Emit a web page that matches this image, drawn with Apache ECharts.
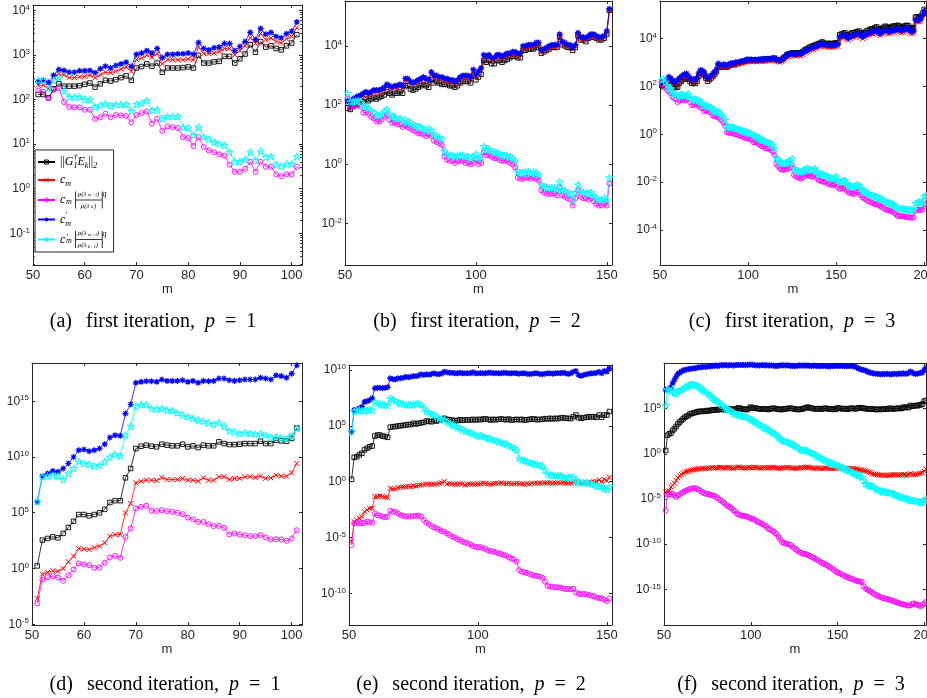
<!DOCTYPE html>
<html><head><meta charset="utf-8">
<script src="https://cdn.jsdelivr.net/npm/echarts@6/dist/echarts.min.js"></script>
<style>html,body{margin:0;padding:0;background:#fff}#c{width:927px;height:698px}</style>
</head><body><div id="c"></div>
<script>
// ---------- data (x = m, starting at 51) ----------
const M_START = 51;
// (a) first iteration, p = 1
const a_G = [1.3e2,1.3e2,1.1e2,1.75e2,2.25e2,2.0e2,2.0e2,2.0e2,2.05e2,2.2e2,
 2.35e2,1.9e2,2.25e2,2.7e2,2.6e2,2.8e2,3.1e2,3.4e2,2.7e2,5.1e2,
 5.5e2,6.3e2,5.6e2,6.6e2,4.1e2,5.1e2,5.1e2,5.1e2,5.2e2,5.4e2,
 5.1e2,9.8e2,6.6e2,6.6e2,7.0e2,7.2e2,9.3e2,9.3e2,6.6e2,8.2e2,
 1.05e3,1.7e3,1.15e3,2.0e3,1.5e3,1.6e3,1.4e3,1.3e3,1.6e3,1.85e3,2.85e3];
const a_c = [2.1e2,2.1e2,1.75e2,3.2e2,3.8e2,3.5e2,3.1e2,3.1e2,3.2e2,3.3e2,
 3.5e2,3.1e2,3.6e2,4.1e2,4.0e2,4.3e2,4.8e2,5.4e2,4.3e2,7.9e2,
 8.5e2,9.8e2,9.0e2,1.07e3,6.3e2,7.8e2,7.8e2,7.8e2,7.8e2,8.2e2,
 7.8e2,1.5e3,1.07e3,1.07e3,1.1e3,1.2e3,1.4e3,1.4e3,1.0e3,1.25e3,
 1.6e3,2.45e3,1.8e3,3.0e3,2.2e3,2.4e3,2.0e3,1.85e3,2.3e3,2.6e3,4.1e3];
const a_cr = [1.6e2,1.5e2,1.07e2,1.65e2,1.8e2,88,68,67,67,59,
 59,37,40,48,40,45,44,43,31,45,
 50,54,29,37,20,25,24,23,14.4,13.7,
 9.1,14.4,8.6,7.2,6.6,5.9,5.5,3.45,2.4,2.4,
 2.8,4.0,2.4,4.0,3.1,3.1,2.1,1.9,2.1,2.1,3.1];
const a_cp = [2.5e2,2.7e2,2.4e2,3.5e2,4.7e2,4.5e2,4.1e2,4.1e2,4.4e2,4.4e2,
 4.5e2,4.0e2,4.9e2,5.6e2,5.1e2,5.8e2,6.3e2,6.9e2,5.5e2,1.03e3,
 1.1e3,1.25e3,1.1e3,1.4e3,8.7e2,1.03e3,1.03e3,1.06e3,1.06e3,1.1e3,
 1.03e3,1.9e3,1.4e3,1.3e3,1.45e3,1.5e3,1.8e3,1.8e3,1.25e3,1.55e3,
 2.0e3,3.2e3,2.2e3,3.9e3,2.9e3,3.2e3,2.6e3,2.4e3,3.0e3,3.4e3,5.5e3];
const a_cpr = [2.7e2,2.7e2,1.8e2,2.7e2,3.1e2,1.55e2,1.14e2,1.14e2,1.14e2,1.0e2,
 1.0e2,68,74,81,72,78,77,78,55,78,
 83,95,57,59,37,42,42,42,24,23,
 16,24,14.4,13,11,10.2,9.4,6.6,4.0,4.1,
 4.5,6.6,4.3,7.0,5.1,5.3,3.45,3.2,3.6,3.6,5.3];

// (b) first iteration, p = 2
const b_G = [79,71,89,1e2,1.1e2,1.3e2,1.3e2,1.6e2,1.4e2,1.6e2,
 1.8e2,1.6e2,1.8e2,2e2,2.2e2,2.8e2,2.5e2,2.2e2,2.5e2,2.5e2,
 2.8e2,2.5e2,4.5e2,4.5e2,3.5e2,3.2e2,3.5e2,4e2,4.5e2,5e2,
 4.5e2,4e2,7.1e2,5.6e2,6.3e2,5.6e2,5e2,5e2,5e2,4.5e2,
 4.5e2,4e2,4.5e2,5.6e2,6.3e2,6.3e2,6.3e2,5.6e2,1e3,7.1e2,
 8.9e2,1.1e3,3.2e3,2.8e3,3.2e3,2.5e3,2.5e3,3.2e3,3.2e3,2.8e3,
 3.2e3,3.5e3,4e3,4.5e3,4.5e3,4e3,4e3,7.1e3,7.1e3,7.9e3,
 7.9e3,7.9e3,8.9e3,8.9e3,5.6e3,6.3e3,7.1e3,7.9e3,8.9e3,8.9e3,
 8.9e3,2e4,1.1e4,1e4,8.9e3,8.9e3,7.1e3,8.9e3,2.2e4,1.6e4,
 1.6e4,1.4e4,1.8e4,2e4,2e4,1.8e4,1.6e4,1.6e4,1.8e4,2.5e4,1.6e5];
const b_c = [1.2e2,95,1.4e2,1.5e2,1.7e2,1.9e2,2.1e2,2.4e2,2.1e2,2.4e2,
 2.7e2,2.7e2,2.7e2,3e2,3.4e2,4.3e2,3.9e2,3.4e2,3.9e2,3.9e2,
 4.3e2,3.9e2,6.8e2,6.8e2,5.4e2,4.8e2,5.4e2,6.1e2,6.8e2,7.6e2,
 6.8e2,6.1e2,1.1e3,8.5e2,8.5e2,7.6e2,7.6e2,6.8e2,6.8e2,6.1e2,
 6.1e2,5.4e2,6.1e2,7.6e2,8.5e2,8.5e2,8.5e2,7.6e2,1.4e3,9.5e2,
 1.2e3,1.5e3,4.3e3,3.9e3,4.3e3,3.4e3,3.4e3,4.3e3,4.3e3,3.9e3,
 4.3e3,4.8e3,4.8e3,5.4e3,5.4e3,4.8e3,4.8e3,8.5e3,8.5e3,9.5e3,
 9.5e3,9.5e3,1.1e4,1.1e4,6.1e3,6.8e3,7.6e3,8.5e3,9.5e3,9.5e3,
 9.5e3,2.1e4,1.2e4,1.1e4,9.5e3,9.5e3,7.6e3,9.5e3,2.4e4,1.7e4,
 1.7e4,1.5e4,1.9e4,2.1e4,2.1e4,1.9e4,1.7e4,1.7e4,1.9e4,2.7e4,1.6e5];
const b_cr = [1.6e2,79,89,1e2,1e2,89,56,56,50,40,
 35,28,28,32,40,45,32,25,25,22,
 22,18,20,18,16,14,13,11,11,10,
 8.9,10,8.9,6.3,5.6,5,4.5,1.8,1.4,1.3,
 1.3,1.1,1.3,1.3,1.3,1.1,1.1,1,1.1,1.4,
 1,1.1,2.5,2,2,1.8,1.6,1.6,1.4,1.3,
 1.3,1.3,1.1,1,0.79,0.35,0.32,0.32,0.35,0.35,
 0.32,0.35,0.32,0.28,0.13,0.11,0.1,0.1,0.1,0.1,
 0.089,0.16,0.089,0.079,0.071,0.063,0.04,0.071,0.13,0.079,
 0.071,0.071,0.063,0.071,0.056,0.045,0.04,0.04,0.045,0.04,0.22];
const b_cp = [1.4e2,1.1e2,1.6e2,1.8e2,2e2,2.2e2,2.5e2,2.8e2,2.5e2,2.8e2,
 3.2e2,3.2e2,3.2e2,3.5e2,4e2,5e2,4.5e2,4e2,4.5e2,4.5e2,
 5e2,4.5e2,7.9e2,7.9e2,6.3e2,5.6e2,6.3e2,7.1e2,7.9e2,8.9e2,
 7.9e2,7.1e2,1.3e3,1e3,1e3,8.9e2,8.9e2,7.9e2,7.9e2,7.1e2,
 7.1e2,6.3e2,7.1e2,8.9e2,1e3,1e3,1e3,8.9e2,1.6e3,1.1e3,
 1.4e3,1.8e3,5e3,4.5e3,5e3,4e3,4e3,5e3,5e3,4.5e3,
 5e3,5.6e3,5.6e3,6.3e3,6.3e3,5.6e3,5.6e3,1e4,1e4,1.1e4,
 1.1e4,1.1e4,1.3e4,1.3e4,7.1e3,7.9e3,8.9e3,1e4,1.1e4,1.1e4,
 1.1e4,2.5e4,1.4e4,1.3e4,1.1e4,1.1e4,8.9e3,1.1e4,2.8e4,2e4,
 2e4,1.8e4,2.2e4,2.5e4,2.5e4,2.2e4,2e4,2e4,2.2e4,3.2e4,1.8e5];
const b_cpr = [2.5e2,1.3e2,1.3e2,1.4e2,1.4e2,1.3e2,89,89,79,63,
 56,45,45,50,63,71,50,40,40,35,
 35,28,32,28,25,22,20,18,18,16,
 14,16,14,10,8.9,7.9,7.1,2.8,2.2,2,
 2,1.8,2,2,2,1.8,1.8,1.6,1.8,2.2,
 1.6,1.8,4,3.2,3.2,2.8,2.5,2.5,2.2,2,
 2,2,1.8,1.6,1.3,0.56,0.5,0.5,0.56,0.56,
 0.5,0.56,0.5,0.45,0.2,0.18,0.16,0.16,0.16,0.16,
 0.14,0.25,0.14,0.13,0.11,0.1,0.063,0.11,0.2,0.13,
 0.11,0.11,0.1,0.11,0.089,0.071,0.063,0.063,0.071,0.063,0.35];

// (c) first iteration, p = 3
const c_G = [1.1e2,95,1.1e2,1.4e2,1.7e2,1.6e2,1.2e2,95,89,93,
 1.3e2,1.6e2,1.9e2,2.1e2,2.4e2,2e2,1.6e2,1.3e2,1.4e2,1.3e2,
 1.6e2,2.6e2,3.5e2,3.3e2,3e2,2.2e2,1.6e2,1.9e2,2.2e2,2.6e2,
 3.2e2,4e2,7.1e2,6.3e2,6.3e2,7.1e2,6.6e2,6.3e2,7.1e2,7.6e2,
 8.3e2,7.9e2,8.9e2,8.9e2,9.3e2,1e3,1.05e3,1.1e3,1.15e3,1.2e3,
 1.25e3,1.2e3,1.2e3,1.25e3,1.2e3,1.25e3,1.3e3,1.25e3,1.35e3,1.3e3,
 1.4e3,1.35e3,1.4e3,1.45e3,1.5e3,1.3e3,1.25e3,1.2e3,1.3e3,1.5e3,
 1.7e3,2.1e3,2.2e3,2.3e3,2.5e3,2.4e3,2.3e3,2.5e3,2.5e3,2.4e3,
 2.8e3,3.2e3,3.5e3,3.8e3,4.3e3,4.6e3,4.8e3,5.2e3,5.6e3,6e3,
 6.3e3,7.1e3,6.3e3,6e3,6e3,6.2e3,5.9e3,6e3,6.3e3,6.3e3,
 6.6e3,1.4e4,1.5e4,1.6e4,1.7e4,1.4e4,1.3e4,1.5e4,1.7e4,1.7e4,
 1.8e4,1.9e4,2e4,1.7e4,1.5e4,1.7e4,2e4,2.1e4,2.3e4,2.5e4,
 2.4e4,2.8e4,3e4,2.5e4,2.3e4,2.6e4,2.9e4,3.2e4,2.9e4,2.8e4,
 2.9e4,3.2e4,3.2e4,3.3e4,3.5e4,3.2e4,2.8e4,3e4,3.3e4,3.5e4,
 3.3e4,2.8e4,2.6e4,2.8e4,7.6e4,7.9e4,7.6e4,8.3e4,1.1e5,1.6e5,1.4e5];
const c_c = [1.3e2,1.1e2,1.3e2,1.7e2,2.1e2,1.9e2,1.5e2,1.3e2,1.3e2,1.5e2,
 1.9e2,2.1e2,2.4e2,2.7e2,2.8e2,2.4e2,1.9e2,1.5e2,1.7e2,1.6e2,
 1.9e2,2.9e2,3.9e2,3.7e2,3.3e2,2.4e2,1.75e2,2.1e2,2.4e2,2.8e2,
 3.3e2,4.2e2,7.4e2,6.6e2,6.3e2,6.9e2,6.6e2,6.3e2,6.9e2,7.4e2,
 7.8e2,7.4e2,8.3e2,8.3e2,8.7e2,9.3e2,9.3e2,1e3,1.05e3,1.1e3,
 1.1e3,1.05e3,1.05e3,1.1e3,1.05e3,1.1e3,1.1e3,1.1e3,1.15e3,1.1e3,
 1.2e3,1.15e3,1.2e3,1.2e3,1.2e3,1.1e3,1.05e3,1e3,1.1e3,1.2e3,
 1.4e3,1.7e3,1.75e3,1.9e3,2e3,1.9e3,1.8e3,1.9e3,1.9e3,1.85e3,
 2.1e3,2.4e3,2.6e3,2.8e3,3.1e3,3.3e3,3.5e3,3.7e3,4e3,4.3e3,
 4.6e3,5e3,4.6e3,4.4e3,4.3e3,4.4e3,4.2e3,4.3e3,4.4e3,4.5e3,
 4.7e3,9.5e3,1.05e4,1.1e4,1.1e4,9.3e3,8.3e3,1e4,1.1e4,1.1e4,
 1.2e4,1.25e4,1.3e4,1.1e4,9.8e3,1.1e4,1.25e4,1.3e4,1.4e4,1.55e4,
 1.5e4,1.65e4,1.8e4,1.5e4,1.3e4,1.5e4,1.65e4,1.8e4,1.65e4,1.55e4,
 1.65e4,1.8e4,1.8e4,1.95e4,2.1e4,1.85e4,1.65e4,1.8e4,2e4,2.1e4,
 2e4,1.65e4,1.55e4,1.65e4,4.8e4,5e4,4.8e4,5.2e4,7.7e4,1.05e5,9.3e4];
const c_cr = [1.2e2,1.3e2,1e2,70,60,50,37,32,28,22,
 25,29,27,25,27,30,22,16,17,18,
 17,15,13,12,9,9.8,9.3,8.5,7.9,6,
 5.7,5.3,5,4.5,3.7,3,2.2,1.2,1.15,1.1,
 1.15,1.05,0.98,0.95,0.87,0.85,0.79,0.71,0.68,0.65,
 0.62,0.58,0.46,0.48,0.44,0.39,0.35,0.31,0.3,0.26,
 0.25,0.25,0.22,0.19,0.135,0.059,0.047,0.038,0.034,0.032,
 0.034,0.035,0.038,0.042,0.05,0.02,0.018,0.016,0.015,0.014,
 0.016,0.018,0.02,0.019,0.018,0.017,0.0175,0.02,0.015,0.012,
 0.0115,0.011,0.01,0.0105,0.0089,0.0084,0.0079,0.0074,0.0079,0.0087,
 0.0063,0.0052,0.0055,0.0057,0.006,0.0045,0.0037,0.0036,0.0034,0.0032,
 0.0036,0.004,0.0037,0.0028,0.0023,0.0021,0.0019,0.0016,0.0016,0.0014,
 0.0013,0.0012,0.0012,0.0011,0.001,9.3e-4,8.3e-4,7.4e-4,6.9e-4,6.6e-4,
 6.3e-4,5.8e-4,5.2e-4,4.6e-4,3.8e-4,4e-4,3.7e-4,3.8e-4,3.6e-4,3.5e-4,
 3.6e-4,3.3e-4,3.3e-4,3.4e-4,6.3e-4,6.9e-4,7.2e-4,6.9e-4,7.2e-4,1.2e-3,1.3e-3];
const c_cp = [1.5e2,1.3e2,1.6e2,2e2,2.5e2,2.2e2,1.8e2,1.5e2,1.6e2,1.8e2,
 2.2e2,2.5e2,2.9e2,3.2e2,3.4e2,2.8e2,2.2e2,1.8e2,2e2,1.9e2,
 2.2e2,3.5e2,4.7e2,4.5e2,4e2,2.8e2,2.1e2,2.5e2,2.8e2,3.4e2,
 4e2,5e2,8.9e2,7.9e2,7.6e2,8.3e2,7.9e2,7.6e2,8.3e2,8.9e2,
 9.3e2,8.9e2,1e3,1e3,1.05e3,1.1e3,1.1e3,1.2e3,1.3e3,1.3e3,
 1.3e3,1.3e3,1.25e3,1.3e3,1.25e3,1.3e3,1.35e3,1.3e3,1.4e3,1.3e3,
 1.4e3,1.4e3,1.4e3,1.45e3,1.45e3,1.3e3,1.25e3,1.2e3,1.3e3,1.45e3,
 1.7e3,2e3,2.1e3,2.2e3,2.3e3,2.2e3,2.1e3,2.2e3,2.3e3,2.2e3,
 2.5e3,2.8e3,3.2e3,3.3e3,3.7e3,4e3,4.2e3,4.5e3,4.8e3,5.1e3,
 5.5e3,6e3,5.5e3,5.2e3,5.1e3,5.2e3,5e3,5.1e3,5.2e3,5.4e3,
 5.6e3,1.15e4,1.3e4,1.3e4,1.35e4,1.1e4,1e4,1.2e4,1.3e4,1.35e4,
 1.4e4,1.5e4,1.6e4,1.3e4,1.2e4,1.3e4,1.5e4,1.6e4,1.7e4,1.9e4,
 1.8e4,2e4,2.2e4,1.8e4,1.6e4,1.8e4,2e4,2.2e4,2e4,1.9e4,
 2e4,2.1e4,2.2e4,2.3e4,2.6e4,2.2e4,2e4,2.2e4,2.4e4,2.6e4,
 2.4e4,2e4,1.9e4,2e4,5.8e4,6e4,5.8e4,6.3e4,9.3e4,1.3e5,1.1e5];
const c_cpr = [1.8e2,2.1e2,1.5e2,1.1e2,93,79,59,50,45,36,
 40,47,44,40,43,48,35,26,28,29,
 28,25,22,20,15,16,15,14,13,10,
 9.5,8.9,8.5,7.6,6.2,5,3.8,2.1,2,1.9,
 2,1.9,1.7,1.7,1.55,1.5,1.4,1.26,1.2,1.15,
 1.1,1.05,0.83,0.87,0.79,0.71,0.63,0.56,0.54,0.48,
 0.45,0.45,0.41,0.35,0.25,0.11,0.089,0.071,0.063,0.06,
 0.063,0.066,0.071,0.079,0.095,0.037,0.033,0.03,0.028,0.027,
 0.03,0.034,0.037,0.035,0.034,0.032,0.033,0.037,0.028,0.023,
 0.022,0.021,0.019,0.02,0.017,0.016,0.015,0.014,0.015,0.017,
 0.012,0.01,0.011,0.011,0.012,0.0089,0.0074,0.0071,0.0068,0.0063,
 0.0071,0.0079,0.0074,0.0056,0.0046,0.0042,0.0038,0.0033,0.0032,0.0028,
 0.0027,0.0025,0.0025,0.0022,0.0021,0.0019,0.0017,0.0015,0.0014,0.0014,
 0.0013,0.0012,0.0011,9.5e-4,7.9e-4,8.3e-4,7.6e-4,7.9e-4,7.4e-4,7.1e-4,
 7.4e-4,6.8e-4,6.8e-4,7.1e-4,1.3e-3,1.4e-3,1.5e-3,1.4e-3,1.5e-3,2.5e-3,2.8e-3];

// (d) second iteration, p = 1
const d_G = [1.7,3.5e2,4.9e2,6.9e2,5.6e2,1.4e3,4.8e3,1.7e4,6.9e4,6.9e4,
 5.3e4,6.9e4,9.8e4,2e5,8.3e5,1.2e6,1.2e6,1.35e8,9.3e8,5.7e10,
 9.3e10,1.15e11,9.3e10,8.1e10,1.4e11,1.15e11,1e11,1e11,1.4e11,8.1e10,
 1e11,7.1e10,1.15e11,1e11,1e11,2.3e11,1.6e11,1.3e11,1.3e11,1.4e11,
 1.6e11,1.6e11,1.6e11,2.6e11,1.6e11,1.6e11,3.2e11,2.8e11,2.6e11,4.6e11,4.1e12];
const d_c = [2e-3,0.31,0.44,0.62,0.55,1.0,4,12.6,62,54,
 50,76,1e2,2e2,7.9e2,1.1e3,1.1e3,9.8e4,6.7e5,4.8e7,
 6.7e7,8.3e7,8.3e7,7.5e7,1.45e8,9.5e7,9.5e7,9.5e7,1.2e8,8.3e7,
 8.3e7,6.7e7,1.35e8,8.3e7,8.3e7,1.7e8,1.7e8,9.5e7,1.2e8,1.2e8,
 1.7e8,1.7e8,1.45e8,1.9e8,1.2e8,1.35e8,2.3e8,1.9e8,1.9e8,3.8e8,2.6e9];
const d_cr = [7.3e-4,0.1,0.16,0.2,0.15,0.08,0.25,0.8,2.8,2.3,
 2,1.15,1.2,3.2,9.7,13.7,9,6.9e2,3.9e3,2.4e5,
 3.4e5,4.2e5,1.5e5,1.4e5,1.7e5,1.4e5,1.2e5,1e5,7.4e4,3.7e4,
 2.5e4,1.5e4,1.5e4,9.4e3,6.3e3,6.6e3,4.4e3,1.1e3,1.4e3,1.1e3,
 9.7e2,7.9e2,7.9e2,9.7e2,6e2,4e2,4.2e2,4e2,3e2,4.9e2,2.7e3];
const d_cp = [9.5e5,1.9e8,3.3e8,5.4e8,4.7e8,9.3e8,2.6e9,1.0e10,4.1e10,4.7e10,
 3.3e10,4.1e10,5.8e10,1.4e11,5.6e11,9e11,7.9e11,7.9e13,5.4e14,4.5e16,
 5.5e16,6.3e16,6.3e16,5.5e16,8.9e16,6.7e16,6.7e16,6.7e16,7.7e16,5.5e16,
 6.7e16,4.5e16,6.7e16,6.3e16,6.7e16,1.1e17,1.1e17,7.7e16,6.7e16,7.7e16,
 8.9e16,8.9e16,8.9e16,1.3e17,1.1e17,8.9e16,2.1e17,1.8e17,1.3e17,3e17,1.7e18];
const d_cpr = [9.5e5,1.7e8,1.9e8,2.3e8,1.9e8,9.5e7,3.3e8,9.3e8,4.2e9,2.6e9,
 2.2e9,1.5e9,1.8e9,3.7e9,1e10,1.7e10,1.2e10,9e11,5.8e12,3.6e14,
 5e14,5e14,2.2e14,2e14,2.2e14,1.6e14,1.4e14,9e13,5.6e13,4e13,
 2.8e13,2e13,1.6e13,1.15e13,8.7e12,1.15e13,5.8e12,2.2e12,1.8e12,1.26e12,
 1.55e12,1.26e12,1.1e12,1.26e12,9e11,5.6e11,6.3e11,5.2e11,4.6e11,9e11,3.5e12];

// (e) second iteration, p = 2
const e_G = [1.6,1.5e2,1.7e2,2.5e2,3.5e2,6.9e2,9.8e2,1.35e3,1.55e3,1.2e4,
 1.5e4,1.5e4,1.2e4,1.1e4,9.3e3,7.4e4,8.5e4,8.5e4,9.8e4,1e5,
 1.1e5,1.2e5,1.3e5,1.3e5,1.7e5,1.45e5,1.7e5,1.9e5,2e5,2.7e5,
 2.5e5,2.3e5,2.9e5,2.7e5,3.3e5,3.8e5,4.7e5,3.8e5,3.5e5,3.3e5,
 2.9e5,2.9e5,3.5e5,3.1e5,3.3e5,3.5e5,3.3e5,3.8e5,3.3e5,3.8e5,
 3.5e5,4.1e5,4.1e5,3.8e5,3.3e5,3.8e5,3.5e5,3.8e5,4.1e5,3.8e5,
 3.5e5,4.1e5,3.3e5,3.5e5,3.8e5,3.5e5,3.8e5,3.3e5,3.5e5,3.8e5,
 4.1e5,4.1e5,3.5e5,3.8e5,3.8e5,4.4e5,4.1e5,4.7e5,4.1e5,4.7e5,
 4.4e5,5e5,5.4e5,4.7e5,4.7e5,4.4e5,6.6e5,9.3e5,5.4e5,4.7e5,
 5.4e5,5.8e5,6.6e5,6.2e5,6.6e5,5.8e5,9.3e5,5.8e5,9.3e5,9.3e5,1.9e6];
const e_c = [4.3e-6,2.6e-4,3.7e-4,5.2e-4,7.4e-4,2e-3,2.9e-3,4.1e-3,4.1e-3,0.046,
 0.046,0.052,0.046,0.04,0.037,0.25,0.22,0.22,0.29,0.31,
 0.33,0.35,0.38,0.35,0.44,0.41,0.47,0.5,0.54,0.62,
 0.58,0.54,0.58,0.62,0.71,0.81,1.0,0.62,0.71,0.62,
 0.58,0.58,0.66,0.62,0.5,0.58,0.62,0.62,0.54,0.62,
 0.66,0.71,0.71,0.62,0.62,0.66,0.71,0.71,0.76,0.71,
 0.66,0.71,0.62,0.66,0.71,0.66,0.62,0.58,0.66,0.62,
 0.71,0.71,0.71,0.76,0.71,0.76,0.81,0.81,0.71,0.71,
 0.81,0.76,0.81,0.76,0.71,0.76,0.87,1.0,0.76,0.71,
 0.76,0.81,0.87,0.93,1.0,1.07,1.4,1.0,1.6,1.2,2.5];
const e_cr = [2.1e-6,1.9e-4,2.1e-4,1.9e-4,1.9e-4,2.1e-4,2.6e-4,2.3e-4,2.1e-4,1.45e-3,
 1e-3,8.9e-4,7.4e-4,6.5e-4,7.4e-4,2.5e-3,2e-3,2e-3,1.45e-3,1e-3,
 8.9e-4,7.4e-4,7.9e-4,7.4e-4,8.5e-4,8.5e-4,9.1e-4,7.4e-4,3.7e-4,2.1e-4,
 1.5e-4,1.07e-4,7.9e-5,6.6e-5,4.7e-5,3.8e-5,3.2e-5,2.3e-5,1.7e-5,1.2e-5,
 1e-5,6.9e-6,6e-6,4.3e-6,3.5e-6,3e-6,2.5e-6,1.7e-6,1.5e-6,1.3e-6,
 1.4e-6,1.07e-6,9.3e-7,6.6e-7,6e-7,5.4e-7,4.7e-7,3.8e-7,3.3e-7,2.7e-7,
 2.3e-7,1.7e-7,1.26e-7,1.1e-7,6.9e-8,1.2e-8,8.7e-9,7.6e-9,6.6e-9,5.4e-9,
 4.4e-9,3.8e-9,3.5e-9,3.1e-9,2.5e-9,1.1e-9,4.6e-10,4e-10,3.7e-10,3.5e-10,
 3.5e-10,3.2e-10,2.8e-10,2.3e-10,2.5e-10,2.3e-10,2.5e-10,1.2e-10,9.3e-11,8.1e-11,
 8.7e-11,8.1e-11,7.1e-11,6.2e-11,5.4e-11,4.1e-11,3.8e-11,3.5e-11,2.7e-11,2e-11,3.5e-11];
const e_cp = [3e4,2.6e6,2.8e6,3.7e6,5.2e6,1.4e7,1.6e7,2e7,2.9e7,2.3e8,
 2.6e8,2.6e8,2.3e8,2.6e8,2.8e8,1.8e9,1.5e9,1.4e9,1.8e9,1.8e9,
 2e9,2.5e9,2.2e9,2.5e9,2.9e9,2.7e9,3.2e9,4.1e9,3.5e9,4.1e9,
 3.8e9,4.4e9,5e9,4.4e9,4.1e9,5e9,7.1e9,6.2e9,5.4e9,5.8e9,
 5e9,5e9,5.8e9,5e9,5e9,5.4e9,5e9,6.2e9,5e9,5e9,
 5.4e9,5e9,5e9,5.8e9,5.8e9,5e9,5.4e9,5e9,5e9,5.8e9,
 5.4e9,5e9,5e9,5.4e9,5e9,4.7e9,5e9,5e9,4.7e9,4.1e9,
 4.7e9,5e9,5e9,4.4e9,4.1e9,4.7e9,5e9,5e9,4.7e9,5e9,
 5.4e9,5e9,5.8e9,5e9,4.4e9,5e9,7.1e9,8.1e9,3.5e9,2.9e9,
 3.5e9,4.1e9,4.7e9,5e9,5e9,5.8e9,7.1e9,5e9,8.1e9,7.1e9,1.4e10];
const e_cpr = [3e4,1.9e6,2.3e6,2.6e6,2.3e6,2.3e6,2.6e6,3e6,2.6e6,1.4e7,
 1e7,8.9e6,7.4e6,7.4e6,6.5e6,2.9e7,2.3e7,1.7e7,1.2e7,1e7,
 8.9e6,7.4e6,7.9e6,7.4e6,8.9e6,9.1e6,1e7,7.4e6,3.7e6,2.1e6,
 1.6e6,1.15e6,9.3e5,6.6e5,4.7e5,3.8e5,3.3e5,2.3e5,1.7e5,1.2e5,
 1e5,7.4e4,6.3e4,4.3e4,3.5e4,3e4,2.5e4,1.9e4,1.6e4,1.2e4,
 1.3e4,1.1e4,9.3e3,7.6e3,6.6e3,5.4e3,4.7e3,3.8e3,3.3e3,2.7e3,
 2.3e3,1.7e3,1.3e3,9.8e2,6.9e2,1.2e2,87,76,66,50,
 44,38,35,31,25,11,4.6,4,3.7,3.5,
 3.5,3.2,2.8,2.3,2.5,2.3,2.5,1.2,0.93,0.81,
 0.87,0.81,0.71,0.62,0.54,0.41,0.38,0.35,0.25,0.2,0.35];

// (f) second iteration, p = 3
const f_G = [2.3,1.1e2,1.6e2,1.9e2,3.8e2,5.8e2,1.05e3,2e3,3.2e3,4.8e3,
 7.1e3,1.1e4,1.4e4,1.7e4,2.6e4,2.8e4,3.4e4,3.7e4,4.2e4,4.8e4,
 5e4,4.8e4,5.2e4,5e4,6.2e4,5.6e4,6.3e4,7.2e4,6.8e4,7.9e4,
 7.2e4,7.9e4,9.3e4,8.3e4,7.2e4,7.9e4,8.9e4,9.3e4,8.5e4,7.2e4,
 8.5e4,1e5,1.2e5,1.05e5,9.3e4,8.5e4,7.9e4,7.9e4,1.05e5,1.45e5,
 1.26e5,1.1e5,1.1e5,1e5,9.3e4,8.5e4,9.3e4,9.3e4,8.5e4,7.9e4,
 8.9e4,1e5,1.1e5,1e5,9.3e4,8.5e4,7.9e4,7.9e4,8.9e4,9.3e4,
 1e5,1.05e5,1.1e5,1e5,9.3e4,8.5e4,7.9e4,7.9e4,8.9e4,9.3e4,
 1.1e5,1.3e5,1.45e5,1.2e5,1.1e5,1e5,9.3e4,9.3e4,1e5,9.3e4,
 8.5e4,1e5,1.1e5,1e5,9.3e4,8.5e4,9.3e4,7.9e4,8.5e4,1.2e5,
 1.1e5,1e5,9.3e4,1e5,9.3e4,8.5e4,1e5,1.1e5,1.05e5,9.3e4,
 1e5,1.2e5,1.26e5,1.1e5,1.1e5,1e5,9.3e4,9.3e4,8.5e4,9.3e4,
 8.5e4,7.9e4,7.9e4,8.5e4,7.9e4,8.5e4,8.9e4,9.3e4,8.5e4,1.1e5,
 1e5,9.3e4,9.3e4,1.05e5,1.1e5,1e5,1.05e5,1.45e5,1.26e5,1.45e5,
 1.3e5,2.2e5,1.8e5,2e5,2.2e5,2e5,2.5e5,2.6e5,3.2e5,6.6e5,7.9e5];
const f_c = [5.8e-5,6.3e-5,7.9e-5,2.1e-4,3.2e-4,5.6e-4,1.1e-3,2.2e-3,3.5e-3,5.2e-3,
 7.1e-3,9.3e-3,0.0105,0.012,0.0145,0.016,0.0166,0.019,0.02,0.022,
 0.02,0.024,0.025,0.023,0.026,0.024,0.027,0.03,0.0275,0.028,
 0.025,0.03,0.032,0.0275,0.025,0.028,0.032,0.03,0.026,0.024,
 0.028,0.032,0.035,0.032,0.028,0.026,0.025,0.028,0.032,0.028,
 0.03,0.033,0.032,0.028,0.026,0.025,0.028,0.03,0.0275,0.025,
 0.028,0.032,0.033,0.03,0.027,0.025,0.024,0.027,0.03,0.028,
 0.032,0.03,0.0275,0.025,0.026,0.024,0.025,0.028,0.032,0.026,
 0.03,0.033,0.035,0.03,0.0275,0.025,0.024,0.026,0.028,0.024,
 0.0224,0.025,0.028,0.025,0.024,0.0224,0.025,0.026,0.024,0.028,
 0.026,0.025,0.0224,0.024,0.025,0.022,0.024,0.025,0.0224,0.02,
 0.022,0.019,0.0166,0.016,0.014,0.0126,0.0112,9.3e-3,8.3e-3,6.3e-3,
 5.6e-3,5.2e-3,5e-3,4.5e-3,4.1e-3,4.5e-3,4.2e-3,4.1e-3,4.5e-3,4.1e-3,
 4.5e-3,4.8e-3,5e-3,4.5e-3,4.1e-3,4.8e-3,5.2e-3,5e-3,4.5e-3,4.1e-3,
 5.6e-3,6.3e-3,5.2e-3,5e-3,4.8e-3,5.6e-3,6.6e-3,7.1e-3,7.9e-3,0.012,0.022];
const f_cr = [5.5e-7,3e-5,3e-5,3.2e-5,3.8e-5,2.5e-5,1.6e-5,2.5e-5,3.2e-5,4.5e-5,
 5.6e-5,7.4e-5,8.9e-5,1.05e-4,1.35e-4,1.4e-4,1.6e-4,1.5e-4,1.35e-4,1.05e-4,
 7.9e-5,5.8e-5,4.5e-5,3.8e-5,3.5e-5,3.2e-5,2.8e-5,2.5e-5,2.2e-5,1.6e-5,
 1.26e-5,8.3e-6,6.3e-6,4.6e-6,3.2e-6,1.95e-6,1.6e-6,1.3e-6,8.9e-7,5.5e-7,
 4.5e-7,2.3e-7,2e-7,1.55e-7,1.4e-7,1.35e-7,1.26e-7,1.1e-7,8.9e-8,6.6e-8,
 6.3e-8,5.5e-8,4e-8,2.8e-8,2.5e-8,1.8e-8,1.6e-8,1.2e-8,8.9e-9,5.1e-9,
 4.5e-9,3.4e-9,2.5e-9,1.7e-9,1.26e-9,6.2e-10,3.2e-10,1.7e-10,1.4e-10,1.15e-10,
 1.07e-10,9.5e-11,7.9e-11,4.9e-11,4e-11,2.5e-11,2e-11,1.35e-11,1.1e-11,8.9e-12,
 8.3e-12,7.6e-12,6.3e-12,5e-12,4e-12,3.2e-12,2.5e-12,2e-12,1.5e-12,1.07e-12,
 8.9e-13,7.1e-13,5.6e-13,4.6e-13,3.5e-13,2.5e-13,1.9e-13,1.4e-13,1e-13,7.1e-14,
 6.3e-14,5e-14,4e-14,3e-14,2.6e-14,2e-14,1.8e-14,1.5e-14,1.26e-14,1e-14,
 8.9e-15,7.9e-15,7.1e-15,6.6e-15,2.2e-15,1.26e-15,1e-15,7.9e-16,6e-16,4.4e-16,
 3.2e-16,2.5e-16,2e-16,1.6e-16,1.4e-16,1.1e-16,1e-16,8.9e-17,7.9e-17,7.4e-17,
 6.3e-17,5e-17,4.5e-17,3.8e-17,3.2e-17,2.7e-17,2.4e-17,2.2e-17,2e-17,1.7e-17,
 1.6e-17,1.7e-17,2.5e-17,2.8e-17,2.2e-17,2e-17,1.7e-17,1.35e-17,2e-17,2.8e-17,4.1e-17];
const f_cp = [1.2e7,1.2e7,1.5e7,2.3e7,6.5e7,1.5e8,3.5e8,6.9e8,8.9e8,1.26e9,
 1.6e9,1.9e9,2.1e9,2.3e9,2.5e9,2.6e9,2.8e9,2.9e9,3.2e9,3.8e9,
 3.5e9,4e9,4.2e9,4e9,4.5e9,4.8e9,4.5e9,5e9,5.5e9,5.8e9,
 5.2e9,6e9,6.6e9,6e9,6.8e9,6.3e9,6e9,6.6e9,6.3e9,5.8e9,
 6.3e9,6.8e9,7.2e9,6.6e9,6.8e9,7.1e9,6.3e9,6.9e9,7.2e9,7.4e9,
 6.9e9,6.6e9,6e9,6.3e9,5.8e9,6.3e9,6.6e9,6e9,6.3e9,5.8e9,
 6e9,6.3e9,5.6e9,5.2e9,5.2e9,5.6e9,6e9,6.3e9,6e9,5.8e9,
 6.3e9,5.8e9,5.2e9,5.5e9,4.8e9,5.2e9,5.6e9,6e9,5.5e9,5.8e9,
 6e9,5.5e9,5.8e9,5.2e9,5.2e9,5.6e9,5.4e9,5e9,5.2e9,4.8e9,
 5e9,5.4e9,5e9,4.7e9,4.5e9,4.8e9,5.2e9,5e9,5.5e9,5.2e9,
 5e9,5.4e9,5e9,5.2e9,5e9,4.7e9,5e9,5.2e9,4.8e9,4.5e9,
 3.5e9,2.8e9,2.2e9,2e9,1.8e9,1.6e9,1.3e9,1.05e9,9.5e8,7.9e8,
 7.6e8,7.2e8,7.2e8,6.6e8,6e8,6.9e8,6.3e8,6.9e8,7.2e8,6.3e8,
 6e8,6.9e8,7.2e8,6.6e8,6.9e8,7.6e8,6.9e8,7.9e8,7.2e8,6.9e8,
 9.1e8,1.26e9,1e9,7.6e8,6.9e8,7.2e8,7.9e8,9.1e8,1e9,1.9e9,3.2e9];
const f_cpr = [2.2e5,1.2e7,1e7,7.9e6,1.5e7,5.6e6,4.3e6,7.9e6,1e7,1.2e7,
 1.6e7,2.3e7,2.8e7,3.5e7,4.6e7,4.8e7,4.6e7,4e7,3.5e7,2.8e7,
 2e7,1.2e7,9.5e6,6.5e6,5e6,3.3e6,2.4e6,1.5e6,1.1e6,7.8e5,
 6e5,4e5,2.8e5,2.2e5,1.4e5,9.3e4,7.6e4,6.2e4,4.5e4,3.1e4,
 2.6e4,2.2e4,2e4,1.7e4,1.6e4,1.35e4,1.26e4,1.1e4,8.9e3,6.2e3,
 5.2e3,3.7e3,3e3,2e3,1.7e3,1.35e3,1e3,7.4e2,6.3e2,4.5e2,
 3.3e2,2.5e2,1.9e2,1.6e2,1.1e2,69,45,30,26,23,
 20,17,14,11,8.9,6.5,5,3.5,2.8,2.3,
 2.5,2.3,1.8,1.5,1.26,1,0.79,0.55,0.5,0.36,
 0.3,0.23,0.19,0.15,0.13,0.1,0.089,0.066,0.06,0.051,
 0.045,0.034,0.028,0.022,0.019,0.0145,0.0126,0.0093,0.0079,0.0063,
 0.0052,0.0041,0.0035,0.0026,0.0011,4.9e-4,4.2e-4,3.2e-4,2.8e-4,2.5e-4,
 2.1e-4,1.35e-4,1.1e-4,8.9e-5,7.9e-5,5.8e-5,6.3e-5,5.8e-5,5.2e-5,4.9e-5,
 4.5e-5,3.8e-5,3.3e-5,2.5e-5,2.2e-5,1.6e-5,1.5e-5,1.4e-5,1.2e-5,1.07e-5,
 8.9e-6,6.9e-6,6.3e-6,6.9e-6,6e-6,5.9e-6,5e-6,3.9e-6,4.6e-6,6.9e-6,1.07e-5];

// tick values
const xTicks1 = [50,60,70,80,90,100];
const xTicks2 = [50,100,150];
const xTicks3 = [50,100,150,200];
const yTicksA = [1e-1,1,1e1,1e2,1e3,1e4];
const yTicksB = [1e-2,1,1e2,1e4];
const yTicksC = [1e-4,1e-2,1,1e2,1e4];
const yTicksD = [1e-5,1,1e5,1e10,1e15];
const yTicksE = [1e-10,1e-5,1,1e5,1e10];
const yTicksF = [1e-15,1e-10,1e-5,1,1e5];

const captions = [
  {tag:'(a)', it:'first', p:'1'}, {tag:'(b)', it:'first', p:'2'}, {tag:'(c)', it:'first', p:'3'},
  {tag:'(d)', it:'second', p:'1'}, {tag:'(e)', it:'second', p:'2'}, {tag:'(f)', it:'second', p:'3'}
];

// ---------- layout / style ----------
const AX = '#262626';
const FF = 'Liberation Sans';
const SF = 'Liberation Serif';
const PANELS = [
  {box:[33,5,269,260],   x:[50,102], xt:xTicks1, y:[0.0195,13200],   yt:yTicksA, minor:true,  d:[a_G,a_c,a_cr,a_cp,a_cpr], cap:[153,322]},
  {box:[345,1,267,264],  x:[50,152], xt:xTicks2, y:[3.9e-4,3.3e5],   yt:yTicksB, minor:false, d:[b_G,b_c,b_cr,b_cp,b_cpr], cap:[477,322]},
  {box:[660,1,266,264],  x:[50,201], xt:xTicks3, y:[3.5e-6,3.6e5],   yt:yTicksC, minor:false, d:[c_G,c_c,c_cr,c_cp,c_cpr], cap:[792,322]},
  {box:[32,363,270,262], x:[50,102], xt:xTicks1, y:[8.5e-6,2.7e18],  yt:yTicksD, minor:false, d:[d_G,d_c,d_cr,d_cp,d_cpr], cap:[165,685]},
  {box:[349,365,263,260],x:[50,152], xt:xTicks2, y:[1.45e-13,2.8e10],yt:yTicksE, minor:false, d:[e_G,e_c,e_cr,e_cp,e_cpr], cap:[471,685]},
  {box:[664,363,262,262],x:[50,201], xt:xTicks3, y:[1.15e-19,1.1e10],yt:yTicksF, minor:false, d:[f_G,f_c,f_cr,f_cp,f_cpr], cap:[791,685]}
];
const STY = [
  {name:'s1', color:'#000000', symbol:'rect', size:4.5, bw:0.9},
  {name:'s2', color:'#ff0000', symbol:'path://M0,0L10,10M10,0L0,10', size:5, bw:1},
  {name:'s3', color:'#ff00ff', symbol:'circle', size:5, bw:0.9},
  {name:'s4', color:'#0000ff', symbol:'path://M5,0L5,10M0,5L10,5M1.5,1.5L8.5,8.5M8.5,1.5L1.5,8.5', size:6, bw:1.2},
  {name:'s5', color:'#00ffff', symbol:'path://M5,0L6.2,3.6L10,3.6L6.9,5.9L8.1,9.5L5,7.3L1.9,9.5L3.1,5.9L0,3.6L3.8,3.6Z', size:7, bw:1}
];

function minorTicks(lo, hi) {
  const r = [];
  for (let e = -20; e <= 20; e++) for (let k = 2; k <= 9; k++) {
    const v = k * Math.pow(10, e);
    if (v >= lo && v <= hi) r.push(v);
  }
  return r;
}
const yRich = {
  b: {fontFamily:FF, fontSize:12, lineHeight:14, color:AX},
  s: {fontFamily:FF, fontSize:8, lineHeight:8, verticalAlign:'top', color:AX}
};
const yFmt = v => '{b|10}{s|' + Math.round(Math.log10(v)) + '}';

const grids = [], xAxes = [], yAxes = [], series = [], graphics = [];
PANELS.forEach((P, i) => {
  grids.push({left:P.box[0], top:P.box[1], width:P.box[2], height:P.box[3], containLabel:false, outerBoundsMode:'none'});
  const line = {show:true, onZero:false, lineStyle:{color:AX, width:1}};
  const tick = (vals, len) => ({show:true, inside:true, length:len, customValues:vals, lineStyle:{color:AX, width:1}});
  const xi = xAxes.length;
  xAxes.push({gridIndex:i, type:'value', position:'bottom', min:P.x[0], max:P.x[1],
    axisLine:line, axisTick:tick(P.xt,3), splitLine:{show:false},
    axisLabel:{customValues:P.xt, margin:4, color:AX, fontSize:13, fontFamily:FF},
    name:'m', nameLocation:'middle', nameGap:13, nameTextStyle:{color:AX, fontSize:13, fontFamily:FF}});
  xAxes.push({gridIndex:i, type:'value', position:'top', min:P.x[0], max:P.x[1],
    axisLine:line, axisTick:tick(P.xt,3), splitLine:{show:false}, axisLabel:{show:false}});
  const yi = yAxes.length;
  yAxes.push({gridIndex:i, type:'log', logBase:10, position:'left', min:P.y[0], max:P.y[1],
    axisLine:line, axisTick:tick(P.yt,3), splitLine:{show:false}, minorTick:{show:false},
    axisLabel:{customValues:P.yt, margin:3, formatter:yFmt, rich:yRich, color:AX}});
  yAxes.push({gridIndex:i, type:'log', logBase:10, position:'right', min:P.y[0], max:P.y[1],
    axisLine:line, axisTick:tick(P.yt,3), splitLine:{show:false}, minorTick:{show:false}, axisLabel:{show:false}});
  if (P.minor) {
    const mt = minorTicks(P.y[0], P.y[1]);
    ['left','right'].forEach(pos => yAxes.push({gridIndex:i, type:'log', logBase:10, position:pos, min:P.y[0], max:P.y[1],
      axisLine:{show:false}, axisTick:tick(mt,1.8), splitLine:{show:false}, axisLabel:{show:false}}));
  }
  P.d.forEach((vals, k) => {
    const S = STY[k];
    series.push({type:'line', name:S.name, xAxisIndex:xi, yAxisIndex:yi,
      data: vals.map((v, j) => [M_START + j, v]),
      symbol:S.symbol, symbolSize:S.size, showSymbol:true, showAllSymbol:true,
      lineStyle:{color:S.color, width:0.8},
      itemStyle:{color:'rgba(0,0,0,0)', borderColor:S.color, borderWidth:S.bw},
      emphasis:{disabled:true}, silent:true, animation:false});
  });
  const C = captions[i];
  graphics.push({type:'text', x:P.cap[0], y:P.cap[1], silent:true,
    style:{text:'{n|' + C.tag + '\u2002\u2009' + C.it + ' iteration,\u2002}{i|p}{n|\u2002=\u2002' + C.p + '}',
      rich:{n:{fontFamily:SF, fontSize:20, fill:'#000'}, i:{fontFamily:SF, fontSize:20, fontStyle:'italic', fill:'#000'}},
      fill:'#000', textAlign:'center', textVerticalAlign:'middle', align:'center', verticalAlign:'middle'}});
});

// legend labels (fractions built as three stacked rich-text lines)
const FRAC_TOP = '{sp| }{vbA| }{p2| }{nm|ρ(λ}{ns|m+1}{nm2|)}{p2| }{vbA| }{qq|q}';
const legendText = {
  s1: '{n|||}{i|G}{supz|†}{sub|1}{i|E}{sub|k}{n|||}{sub|2}',
  s2: '{i|c}{sub|m}',
  s3: FRAC_TOP + '\n{ci|c}{cs|m}{g1| }{vbB| }{fb| }{vbB| }\n{sp| }{vbA| }{p5| }{nm|ρ(λ}{ds|k}{nm2|)}{p5| }{vbA| }',
  s4: '{i|c}{supz|′}{sub|m}',
  s5: FRAC_TOP + '\n{ci|c}{cpz|′}{cs|m}{g1| }{vbB| }{fb| }{vbB| }\n{sp| }{vbA| }{p2| }{nm|ρ(λ}{ds8|k+1}{nm2|)}{p3| }{vbA| }'
};
const it = {fontFamily:SF, fontStyle:'italic', color:'#000'};
const LA = 5, LB = 7;   // line heights of fraction rows (outer / middle)
const legendRich = {
  n:{fontFamily:SF, fontSize:12, lineHeight:16, color:'#000'},
  i:Object.assign({fontSize:12, lineHeight:16}, it),
  sub:Object.assign({fontSize:8, lineHeight:8, verticalAlign:'bottom'}, it),
  sup:Object.assign({fontSize:8, lineHeight:8, verticalAlign:'top'}, it),
  supz:Object.assign({fontSize:8, lineHeight:8, width:0, verticalAlign:'top'}, it),
  sp:{fontSize:5, width:15, height:LA, lineHeight:LA},
  vbA:{fontSize:5, width:0.8, height:LA, lineHeight:LA, backgroundColor:'#000'},
  vbB:{fontSize:5, width:0.8, height:LB, lineHeight:LB, backgroundColor:'#000'},
  p2:{fontSize:5, width:2, height:LA, lineHeight:LA}, p3:{fontSize:5, width:3, height:LA, lineHeight:LA}, p5:{fontSize:5, width:5, height:LA, lineHeight:LA},
  nm:Object.assign({fontSize:7, width:10, height:LA, lineHeight:LA}, it),
  nm2:Object.assign({fontSize:7, width:3, height:LA, lineHeight:LA}, it),
  ns:Object.assign({fontSize:5, width:9, height:3, lineHeight:3, verticalAlign:'bottom'}, it),
  ds:Object.assign({fontSize:5, width:3, height:3, lineHeight:3, verticalAlign:'bottom'}, it),
  ds8:Object.assign({fontSize:5, width:8, height:3, lineHeight:3, verticalAlign:'bottom'}, it),
  qq:Object.assign({fontSize:8, width:5, height:LA, lineHeight:LA}, it),
  ci:Object.assign({fontSize:12, width:6, height:LB, lineHeight:LB}, it),
  cs:Object.assign({fontSize:8, width:8, height:4, lineHeight:4, verticalAlign:'bottom'}, it),
  cpz:Object.assign({fontSize:8, width:0, height:4, lineHeight:4, verticalAlign:'top'}, it),
  g1:{fontSize:5, width:1, height:LB, lineHeight:LB},
  fb:{fontSize:5, width:26, height:0.8, lineHeight:LB, backgroundColor:'#000'}
};

const chart = echarts.init(document.getElementById('c'), null, {renderer:'canvas', width:927, height:698});
chart.setOption({
  animation:false,
  backgroundColor:'#ffffff',
  grid:grids, xAxis:xAxes, yAxis:yAxes, series:series, graphic:graphics,
  legend:{
    left:35, top:150, orient:'vertical', itemWidth:17, itemHeight:5, itemGap:2,
    padding:[4,6,3,2], backgroundColor:'#ffffff', borderColor:AX, borderWidth:1, borderRadius:0,
    selectedMode:false, data:['s1','s2','s3','s4','s5'],
    itemStyle:{color:'rgba(0,0,0,0)', borderWidth:1},
    formatter: name => legendText[name],
    textStyle:{color:'#000', lineHeight:5, rich:legendRich}
  }
});
</script>
</body></html>
